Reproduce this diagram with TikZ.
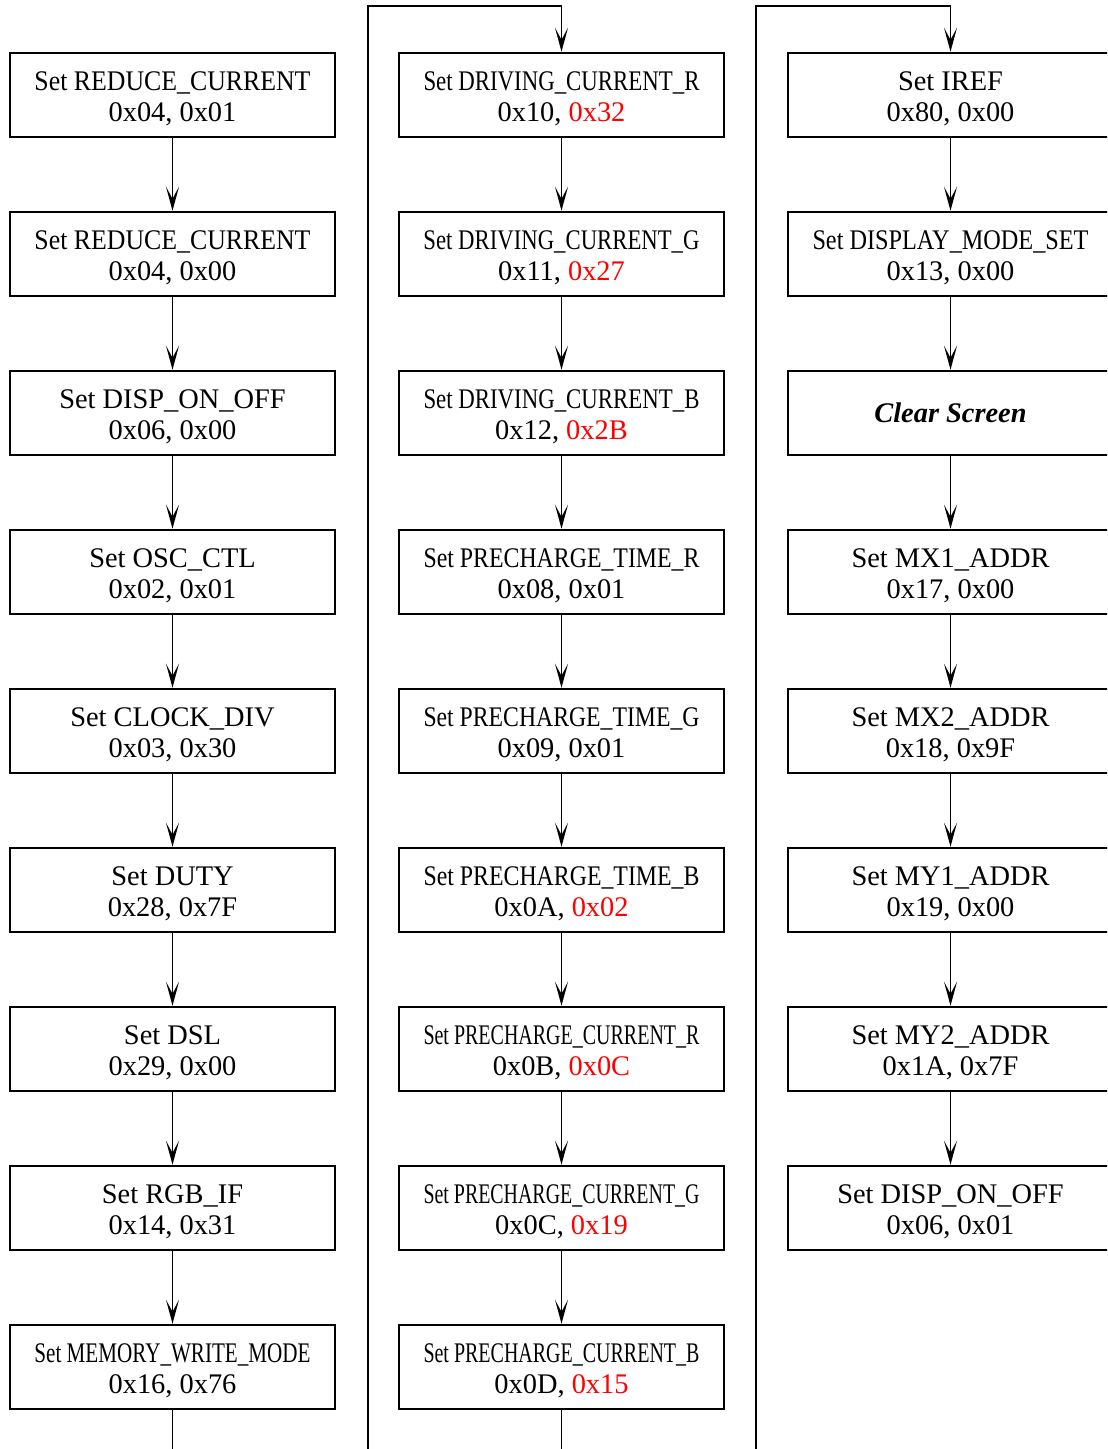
\documentclass[tikz,border=0pt]{standalone}
\usepackage{fontspec}
\setmainfont{Liberation Serif}
\usepackage{graphicx}
\usepackage{xcolor}
\usetikzlibrary{positioning, arrows.meta}

\definecolor{hexred}{RGB}{255,0,0}
% squeeze a long command name into the box (strut lowers the pair of lines a bit)
\newsavebox\fitsave
\newcommand{\fitline}[1]{\rule{0pt}{13.4pt}\sbox\fitsave{#1}\ifdim\wd\fitsave>138pt\resizebox{138pt}{\height}{#1}\else#1\fi}

\begin{document}
\begin{tikzpicture}[x=0.5pt, y=-0.5pt, font=\fontsize{14.2}{15.4}\selectfont,
    cmdbox/.style={draw, line width=1.25pt, minimum width=162.5pt, minimum height=42pt, inner sep=0pt, align=center},
    flowline/.style={line width=0.85pt},
    flow/.style={line width=0.85pt, -{Stealth[length=12pt, width=6.5pt, inset=6pt]}}]
            \useasboundingbox (0,0) rectangle (1107,1449);
            \clip (0,0) rectangle (1107,1449);

            \node[cmdbox] (l1) at (172.5, 95) {\fitline{Set REDUCE\_CURRENT}\\0x04, 0x01};
            \node[cmdbox] (l2) at (172.5, 254) {\fitline{Set REDUCE\_CURRENT}\\0x04, 0x00};
            \node[cmdbox] (l3) at (172.5, 413) {\fitline{Set DISP\_ON\_OFF}\\0x06, 0x00};
            \node[cmdbox] (l4) at (172.5, 572) {\fitline{Set OSC\_CTL}\\0x02, 0x01};
            \node[cmdbox] (l5) at (172.5, 731) {\fitline{Set CLOCK\_DIV}\\0x03, 0x30};
            \node[cmdbox] (l6) at (172.5, 890) {\fitline{Set DUTY}\\0x28, 0x7F};
            \node[cmdbox] (l7) at (172.5, 1049) {\fitline{Set DSL}\\0x29, 0x00};
            \node[cmdbox] (l8) at (172.5, 1208) {\fitline{Set RGB\_IF}\\0x14, 0x31};
            \node[cmdbox] (l9) at (172.5, 1367) {\fitline{Set MEMORY\_WRITE\_MODE}\\0x16, 0x76};

            \node[cmdbox] (m1) at (561.5, 95) {\fitline{Set DRIVING\_CURRENT\_R}\\0x10, \textcolor{hexred}{0x32}};
            \node[cmdbox] (m2) at (561.5, 254) {\fitline{Set DRIVING\_CURRENT\_G}\\0x11, \textcolor{hexred}{0x27}};
            \node[cmdbox] (m3) at (561.5, 413) {\fitline{Set DRIVING\_CURRENT\_B}\\0x12, \textcolor{hexred}{0x2B}};
            \node[cmdbox] (m4) at (561.5, 572) {\fitline{Set PRECHARGE\_TIME\_R}\\0x08, 0x01};
            \node[cmdbox] (m5) at (561.5, 731) {\fitline{Set PRECHARGE\_TIME\_G}\\0x09, 0x01};
            \node[cmdbox] (m6) at (561.5, 890) {\fitline{Set PRECHARGE\_TIME\_B}\\0x0A, \textcolor{hexred}{0x02}};
            \node[cmdbox] (m7) at (561.5, 1049) {\fitline{Set PRECHARGE\_CURRENT\_R}\\0x0B, \textcolor{hexred}{0x0C}};
            \node[cmdbox] (m8) at (561.5, 1208) {\fitline{Set PRECHARGE\_CURRENT\_G}\\0x0C, \textcolor{hexred}{0x19}};
            \node[cmdbox] (m9) at (561.5, 1367) {\fitline{Set PRECHARGE\_CURRENT\_B}\\0x0D, \textcolor{hexred}{0x15}};

            \node[cmdbox] (r1) at (950.5, 95) {\fitline{Set IREF}\\0x80, 0x00};
            \node[cmdbox] (r2) at (950.5, 254) {\fitline{Set DISPLAY\_MODE\_SET}\\0x13, 0x00};
            \node[cmdbox] (r3) at (950.5, 413) {\textbf{\textit{Clear Screen}}};
            \node[cmdbox] (r4) at (950.5, 572) {\fitline{Set MX1\_ADDR}\\0x17, 0x00};
            \node[cmdbox] (r5) at (950.5, 731) {\fitline{Set MX2\_ADDR}\\0x18, 0x9F};
            \node[cmdbox] (r6) at (950.5, 890) {\fitline{Set MY1\_ADDR}\\0x19, 0x00};
            \node[cmdbox] (r7) at (950.5, 1049) {\fitline{Set MY2\_ADDR}\\0x1A, 0x7F};
            \node[cmdbox] (r8) at (950.5, 1208) {\fitline{Set DISP\_ON\_OFF}\\0x06, 0x01};

            \coordinate (lout) at (172.5, 1449);
            \coordinate (min) at (368, 1449);
            \coordinate (mtop) at (561.5, 6);
            \coordinate (mout) at (561.5, 1449);
            \coordinate (rin) at (756, 1449);
            \coordinate (rtop) at (950.5, 6);

            \draw[flow] (l1) -- (l2);
            \draw[flow] (l2) -- (l3);
            \draw[flow] (l3) -- (l4);
            \draw[flow] (l4) -- (l5);
            \draw[flow] (l5) -- (l6);
            \draw[flow] (l6) -- (l7);
            \draw[flow] (l7) -- (l8);
            \draw[flow] (l8) -- (l9);
            \draw[flowline] (l9) -- (lout);

            \draw[flow] (min) |- (mtop) -- (m1);
            \draw[flow] (m1) -- (m2);
            \draw[flow] (m2) -- (m3);
            \draw[flow] (m3) -- (m4);
            \draw[flow] (m4) -- (m5);
            \draw[flow] (m5) -- (m6);
            \draw[flow] (m6) -- (m7);
            \draw[flow] (m7) -- (m8);
            \draw[flow] (m8) -- (m9);
            \draw[flowline] (m9) -- (mout);

            \draw[flow] (rin) |- (rtop) -- (r1);
            \draw[flow] (r1) -- (r2);
            \draw[flow] (r2) -- (r3);
            \draw[flow] (r3) -- (r4);
            \draw[flow] (r4) -- (r5);
            \draw[flow] (r5) -- (r6);
            \draw[flow] (r6) -- (r7);
            \draw[flow] (r7) -- (r8);
        \end{tikzpicture}
\end{document}
